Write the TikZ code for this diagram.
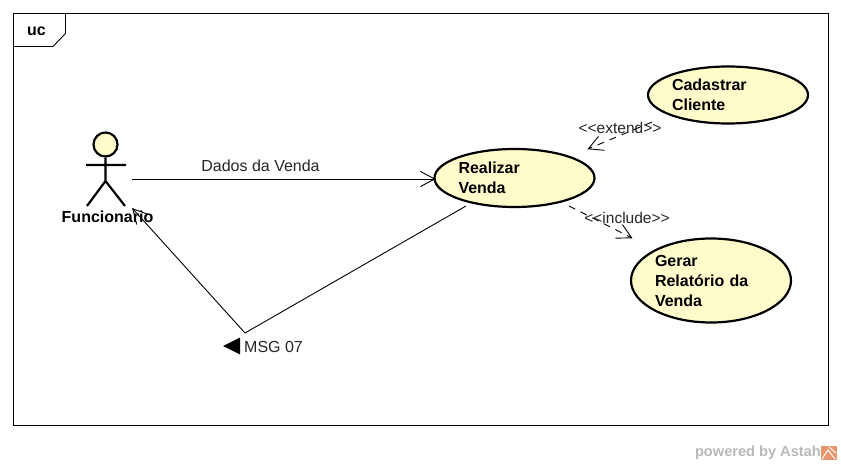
\documentclass[tikz,border=0pt]{standalone}
\usepackage{fontspec}
\setmainfont{Liberation Sans}
\usetikzlibrary{arrows.meta,shapes.geometric}
\definecolor{ucfill}{RGB}{255,252,204}
\definecolor{wm}{RGB}{185,185,185}
\definecolor{wmo}{RGB}{232,150,110}
\pgfarrowsdeclare{openv}{openv}{\pgfarrowsleftextend{-14pt}\pgfarrowsrightextend{0.4pt}}{%
  \pgfsetdash{}{0pt}\pgfsetroundcap\pgfsetmiterjoin
  \pgfpathmoveto{\pgfpoint{-14pt}{7.5pt}}\pgfpathlineto{\pgfpointorigin}\pgfpathlineto{\pgfpoint{-14pt}{-7.5pt}}\pgfusepathqstroke}
\tikzset{
  x=1pt,y=-1pt,
  usecase/.style={ellipse,draw=black,line width=2.2pt,fill=ucfill,inner sep=0pt,minimum width=160pt,text width=112pt,align=left,font=\fontsize{16}{20}\selectfont\bfseries},
  stick/.style={draw=black,line width=2.2pt},
  link/.style={draw=black,line width=0.9pt,-openv},
  deplink/.style={link,dash pattern=on 7pt off 6pt},
  lbl/.style={font=\fontsize{16}{18}\selectfont,color=black!85,inner sep=0pt}
}
\begin{document}
\begin{tikzpicture}
\useasboundingbox (0,0) rectangle (841,465);
\fill[white] (0,0) rectangle (841,465);
% frame
\draw[black,line width=0.9pt] (13.5,13.5) rectangle (828.5,425.5);
\draw[black,line width=0.9pt] (13.5,46.5) -- (53,46.5) -- (65.5,33.5) -- (65.5,13.5);
\node[font=\fontsize{16}{18}\selectfont\bfseries,inner sep=0pt] (frametag) at (36.5,31.5) {uc};
% actor
\node[circle,draw=black,line width=2.2pt,fill=ucfill,minimum size=24pt,inner sep=0pt] (head) at (105.5,144.5) {};
\coordinate (hip) at (105.5,181);
\coordinate (armL) at (86,165);
\coordinate (armR) at (126,165);
\coordinate (legL) at (87,206);
\coordinate (legR) at (125,206);
\path[stick] (head.south) -- (hip) (armL) -- (armR) (legL) -- (hip) -- (legR);
\node[font=\fontsize{16}{18}\selectfont\bfseries,inner sep=0pt] (actor) at (107.5,217) {Funcionario};
% use cases
\node[usecase,minimum height=58pt] (realizar) at (514.5,178) {Realizar\\Venda};
\node[usecase,minimum height=57pt] (cadastrar) at (728,95) {Cadastrar\\Cliente};
\node[usecase,minimum height=84pt] (gerar) at (711,280.5) {Gerar\\Relatório da\\Venda};
% connectors
\coordinate (aout) at (132,179);
\coordinate (ain) at (132.5,208.5);
\coordinate (rin) at (435,179);
\coordinate (rout) at (466,206);
\coordinate (bend) at (245,333);
\draw[link] (aout) -- (rin);
\draw[link] (rout) -- (bend) -- (ain);
\coordinate (exS) at (652,122);
\coordinate (exE) at (588,149);
\draw[deplink] (exS) -- (exE);
\coordinate (inS) at (569,206);
\coordinate (inE) at (632,238);
\draw[deplink] (inS) -- (inE);
% labels
\node[lbl] (dados) at (260.5,165.5) {Dados da Venda};
\node[lbl,font=\fontsize{15.5}{18}\selectfont] (extend) at (620,128) {<{}<extend>{}>};
\node[lbl,font=\fontsize{15.5}{18}\selectfont] (include) at (627,217.5) {<{}<include>{}>};
\node[lbl,anchor=west] (msg) at (244,346.5) {MSG 07};
\fill[black] (223,346) -- (240,337.5) -- (240,354.5) -- cycle;
% watermark
\node[font=\fontsize{14.6}{17}\selectfont\bfseries,color=wm,anchor=east,inner sep=0pt] (wmark) at (821,452.5) {powered by Astah};
\fill[wmo] (821,445.5) rectangle (837,460);
\draw[white,line width=1pt] (822,459) -- (828,450) -- (835,459) (829,447) -- (836,453);
\end{tikzpicture}
\end{document}
